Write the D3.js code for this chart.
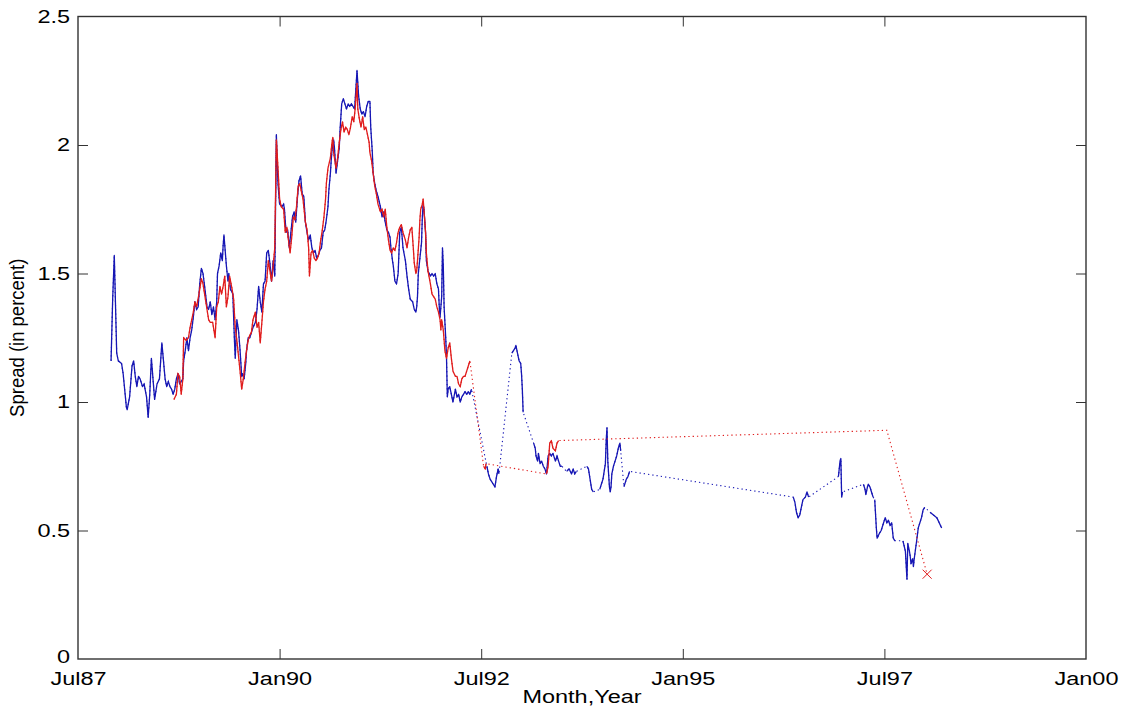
<!DOCTYPE html>
<html><head><meta charset="utf-8">
<script src="https://cdn.jsdelivr.net/npm/d3@7"></script>
<style>
body{margin:0;background:#fff;}
svg{display:block;background:#fff;}
text{font-family:"Liberation Sans",Arial,Helvetica,sans-serif;fill:#000;}
</style></head><body>
<svg id="chart" width="1122" height="711"></svg>
<script>
// ---- tick labels ----
const xTickValues = [1987.5, 1990, 1992.5, 1995, 1997.5, 2000];
const xTickLabels = ["Jul87", "Jan90", "Jul92", "Jan95", "Jul97", "Jan00"];
const yTickValues = [0, 0.5, 1, 1.5, 2, 2.5];
const yTickLabels = ["0", "0.5", "1", "1.5", "2", "2.5"];
const xLabel = "Month,Year";
const yLabel = "Spread (in percent)";

// ---- blue series: [decimal year, spread]; null = gap (bridged by dotted line) ----
const blueSeries = [
[1987.91,1.16],[1987.93,1.40],[1987.95,1.57],[1987.98,1.19],[1988.00,1.16],[1988.04,1.15],[1988.06,1.11],[1988.10,0.98],
[1988.11,0.97],[1988.14,1.02],[1988.17,1.14],[1988.19,1.16],[1988.21,1.10],[1988.23,1.06],[1988.25,1.10],[1988.27,1.09],
[1988.30,1.06],[1988.32,1.07],[1988.35,1.02],[1988.37,0.94],[1988.39,1.03],[1988.41,1.17],[1988.43,1.09],[1988.45,1.01],
[1988.48,1.07],[1988.51,1.09],[1988.54,1.23],[1988.56,1.16],[1988.58,1.09],[1988.60,1.06],[1988.62,1.08],[1988.64,1.06],
[1988.66,1.05],[1988.68,1.03],[1988.70,1.05],[1988.72,1.09],[1988.74,1.11],[1988.76,1.07],[1988.80,1.09],[1988.81,1.16],
[1988.83,1.20],[1988.85,1.25],[1988.87,1.20],[1988.89,1.25],[1988.91,1.28],[1988.93,1.33],[1988.95,1.39],[1988.97,1.36],
[1988.99,1.37],[1989.01,1.46],[1989.03,1.52],[1989.05,1.50],[1989.07,1.45],[1989.10,1.37],[1989.12,1.36],[1989.14,1.39],
[1989.16,1.34],[1989.18,1.37],[1989.20,1.32],[1989.22,1.39],[1989.23,1.50],[1989.25,1.53],[1989.27,1.58],[1989.29,1.55],
[1989.30,1.61],[1989.31,1.65],[1989.34,1.53],[1989.36,1.47],[1989.37,1.50],[1989.39,1.44],[1989.42,1.42],[1989.44,1.24],
[1989.45,1.17],[1989.47,1.32],[1989.49,1.28],[1989.51,1.20],[1989.53,1.10],[1989.54,1.11],[1989.56,1.09],[1989.58,1.15],
[1989.59,1.20],[1989.61,1.25],[1989.63,1.25],[1989.65,1.27],[1989.67,1.29],[1989.70,1.31],[1989.72,1.36],[1989.74,1.45],
[1989.76,1.39],[1989.78,1.35],[1989.80,1.46],[1989.82,1.47],[1989.84,1.58],[1989.86,1.59],[1989.88,1.54],[1989.90,1.47],
[1989.92,1.55],[1989.94,1.49],[1989.96,2.04],[1989.97,1.94],[1989.98,1.85],[1990.00,1.77],[1990.03,1.76],[1990.05,1.77],
[1990.06,1.75],[1990.08,1.66],[1990.10,1.67],[1990.12,1.60],[1990.14,1.66],[1990.16,1.72],[1990.18,1.74],[1990.20,1.70],
[1990.22,1.79],[1990.24,1.86],[1990.26,1.88],[1990.28,1.81],[1990.30,1.80],[1990.32,1.70],[1990.34,1.66],[1990.36,1.63],
[1990.38,1.65],[1990.40,1.60],[1990.42,1.58],[1990.44,1.59],[1990.46,1.56],[1990.48,1.57],[1990.50,1.59],[1990.52,1.60],
[1990.54,1.66],[1990.56,1.67],[1990.58,1.71],[1990.60,1.76],[1990.61,1.82],[1990.63,1.89],[1990.64,1.94],[1990.65,1.98],
[1990.67,2.02],[1990.68,1.99],[1990.70,1.89],[1990.72,1.94],[1990.74,1.99],[1990.75,2.06],[1990.77,2.16],[1990.79,2.18],
[1990.81,2.16],[1990.83,2.14],[1990.85,2.16],[1990.87,2.15],[1990.89,2.16],[1990.91,2.15],[1990.93,2.14],[1990.94,2.19],
[1990.96,2.29],[1990.98,2.19],[1991.00,2.14],[1991.02,2.12],[1991.04,2.13],[1991.06,2.11],[1991.08,2.15],[1991.10,2.17],
[1991.12,2.17],[1991.13,2.07],[1991.15,1.97],[1991.16,1.89],[1991.18,1.85],[1991.20,1.82],[1991.22,1.80],[1991.25,1.76],
[1991.27,1.72],[1991.29,1.74],[1991.31,1.70],[1991.33,1.67],[1991.35,1.66],[1991.37,1.64],[1991.38,1.60],[1991.40,1.55],
[1991.41,1.53],[1991.43,1.47],[1991.45,1.46],[1991.47,1.50],[1991.49,1.66],[1991.51,1.68],[1991.53,1.60],[1991.56,1.55],
[1991.58,1.49],[1991.60,1.44],[1991.62,1.40],[1991.65,1.39],[1991.67,1.36],[1991.69,1.35],[1991.70,1.37],[1991.71,1.41],
[1991.72,1.50],[1991.74,1.56],[1991.76,1.62],[1991.77,1.72],[1991.78,1.77],[1991.79,1.75],[1991.81,1.66],[1991.82,1.55],
[1991.84,1.51],[1991.87,1.49],[1991.89,1.50],[1991.91,1.49],[1991.93,1.50],[1991.95,1.46],[1991.97,1.44],[1991.98,1.37],
[1991.99,1.33],[1992.01,1.41],[1992.02,1.60],[1992.03,1.53],[1992.04,1.37],[1992.06,1.25],[1992.07,1.17],[1992.08,1.02],
[1992.09,1.05],[1992.11,1.06],[1992.13,1.03],[1992.15,1.00],[1992.18,1.05],[1992.20,1.02],[1992.22,1.03],[1992.24,1.00],
[1992.26,1.02],[1992.28,1.03],[1992.30,1.04],[1992.32,1.03],[1992.34,1.04],[1992.36,1.03],[1992.38,1.05],
[1992.47,null],
[1992.57,0.75],[1992.59,0.72],[1992.61,0.70],[1992.63,0.69],[1992.65,0.68],[1992.67,0.67],[1992.69,0.71],[1992.71,0.74],[1992.72,0.72],
[1992.80,null],
[1992.88,1.19],[1992.90,1.20],[1992.92,1.21],[1992.93,1.22],[1992.95,1.19],[1992.97,1.16],[1992.99,1.15],[1993.00,1.11],[1993.01,1.05],[1993.02,0.96],
[1993.08,null],
[1993.15,0.84],[1993.17,0.82],[1993.18,0.79],[1993.20,0.77],[1993.21,0.80],[1993.23,0.76],[1993.25,0.77],[1993.27,0.75],[1993.29,0.74],
[1993.31,0.72],[1993.33,0.79],[1993.35,0.80],[1993.37,0.79],[1993.39,0.80],[1993.42,0.77],[1993.44,0.79],[1993.46,0.77],[1993.48,0.75],[1993.50,0.75],
[1993.53,null],
[1993.56,0.73],[1993.59,0.74],[1993.62,0.72],[1993.64,0.74],[1993.66,0.72],[1993.68,0.73],
[1993.75,null],
[1993.81,0.75],[1993.83,0.74],[1993.85,0.70],[1993.87,0.66],[1993.89,0.65],
[1993.93,null],
[1993.97,0.66],[1993.99,0.68],[1994.01,0.70],[1994.04,0.76],[1994.05,0.85],[1994.06,0.90],[1994.07,0.77],[1994.09,0.67],[1994.10,0.65],
[1994.11,0.67],[1994.12,0.72],[1994.14,0.75],[1994.16,0.77],[1994.18,0.79],[1994.20,0.82],[1994.22,0.84],[1994.23,0.81],
[1994.25,null],
[1994.27,0.67],[1994.30,0.70],[1994.32,0.71],[1994.34,0.73],
[1995.30,null],
[1996.37,0.63],[1996.39,0.61],[1996.41,0.57],[1996.43,0.55],[1996.45,0.56],[1996.47,0.59],[1996.49,0.62],[1996.52,0.63],[1996.54,0.65],[1996.56,0.63],
[1996.75,null],
[1996.93,0.71],[1996.95,0.77],[1996.96,0.78],[1996.97,0.63],[1996.98,0.65],
[1997.10,null],
[1997.24,0.68],[1997.26,0.66],[1997.27,0.64],[1997.29,0.67],[1997.30,0.68],[1997.32,0.67],[1997.34,0.65],[1997.36,0.63],
[1997.37,null],
[1997.38,0.62],[1997.40,0.51],[1997.41,0.47],[1997.44,0.49],[1997.46,0.50],[1997.49,0.53],[1997.51,0.55],[1997.53,0.53],[1997.55,0.54],
[1997.57,0.52],[1997.59,0.53],[1997.61,0.47],[1997.63,0.46],
[1997.68,null],
[1997.73,0.46],[1997.76,0.42],[1997.78,0.31],[1997.79,0.45],[1997.81,0.42],[1997.82,0.40],[1997.83,0.37],[1997.85,0.39],[1997.86,0.36],
[1997.87,0.39],[1997.90,0.46],[1997.92,0.51],[1997.94,0.53],[1997.96,0.55],[1997.98,0.58],[1998.00,0.59],
[1998.03,null],
[1998.07,0.57],[1998.15,0.55],[1998.21,0.51]
];

// ---- red series ----
const redSeries = [
[1988.69,1.01],[1988.72,1.03],[1988.74,1.11],[1988.76,1.10],[1988.78,1.03],[1988.80,1.09],[1988.81,1.25],[1988.84,1.24],
[1988.87,1.25],[1988.89,1.29],[1988.91,1.32],[1988.93,1.35],[1988.95,1.39],[1988.97,1.37],[1989.00,1.42],[1989.03,1.48],
[1989.05,1.46],[1989.07,1.42],[1989.10,1.36],[1989.12,1.32],[1989.14,1.31],[1989.17,1.31],[1989.20,1.25],[1989.22,1.37],
[1989.24,1.39],[1989.26,1.45],[1989.28,1.42],[1989.30,1.45],[1989.32,1.49],[1989.34,1.37],[1989.36,1.41],[1989.38,1.49],
[1989.41,1.44],[1989.43,1.40],[1989.45,1.29],[1989.47,1.24],[1989.49,1.18],[1989.51,1.12],[1989.53,1.05],[1989.55,1.09],
[1989.57,1.15],[1989.59,1.20],[1989.61,1.24],[1989.63,1.26],[1989.65,1.27],[1989.67,1.32],[1989.70,1.35],[1989.72,1.29],
[1989.74,1.31],[1989.76,1.23],[1989.78,1.31],[1989.80,1.39],[1989.82,1.44],[1989.84,1.47],[1989.86,1.55],[1989.88,1.51],
[1989.90,1.47],[1989.92,1.53],[1989.94,1.60],[1989.96,2.02],[1989.98,1.91],[1990.00,1.79],[1990.02,1.76],[1990.05,1.75],
[1990.07,1.66],[1990.09,1.68],[1990.11,1.63],[1990.13,1.58],[1990.15,1.64],[1990.17,1.72],[1990.19,1.71],[1990.21,1.76],
[1990.23,1.84],[1990.25,1.85],[1990.27,1.82],[1990.29,1.79],[1990.32,1.70],[1990.34,1.67],[1990.36,1.60],[1990.37,1.49],
[1990.39,1.58],[1990.41,1.59],[1990.43,1.56],[1990.45,1.55],[1990.47,1.56],[1990.49,1.58],[1990.51,1.63],[1990.53,1.67],
[1990.55,1.72],[1990.57,1.79],[1990.58,1.85],[1990.60,1.91],[1990.63,1.95],[1990.65,2.01],[1990.66,2.03],[1990.67,1.97],
[1990.70,1.91],[1990.72,1.95],[1990.74,2.01],[1990.76,2.06],[1990.78,2.09],[1990.80,2.05],[1990.82,2.07],[1990.84,2.06],
[1990.86,2.04],[1990.88,2.07],[1990.90,2.11],[1990.92,2.09],[1990.94,2.15],[1990.96,2.24],[1990.97,2.14],[1990.99,2.10],
[1991.01,2.07],[1991.03,2.11],[1991.05,2.06],[1991.07,2.07],[1991.09,2.04],[1991.11,2.01],[1991.12,1.97],[1991.14,1.94],
[1991.16,1.89],[1991.18,1.84],[1991.20,1.81],[1991.22,1.77],[1991.25,1.74],[1991.27,1.75],[1991.29,1.72],[1991.31,1.75],
[1991.33,1.68],[1991.35,1.63],[1991.37,1.59],[1991.39,1.58],[1991.41,1.60],[1991.43,1.59],[1991.45,1.62],[1991.47,1.66],
[1991.49,1.68],[1991.51,1.69],[1991.53,1.66],[1991.56,1.63],[1991.58,1.60],[1991.60,1.64],[1991.62,1.67],[1991.64,1.68],
[1991.66,1.59],[1991.67,1.54],[1991.69,1.50],[1991.70,1.51],[1991.71,1.55],[1991.73,1.64],[1991.74,1.71],[1991.75,1.75],
[1991.77,1.77],[1991.78,1.79],[1991.79,1.75],[1991.81,1.66],[1991.82,1.58],[1991.84,1.51],[1991.87,1.46],[1991.89,1.42],
[1991.91,1.41],[1991.93,1.40],[1991.95,1.37],[1991.97,1.35],[1991.99,1.32],[1992.00,1.28],[1992.01,1.32],[1992.03,1.28],
[1992.05,1.20],[1992.07,1.17],[1992.09,1.21],[1992.11,1.23],[1992.13,1.17],[1992.15,1.12],[1992.18,1.10],[1992.20,1.10],
[1992.22,1.07],[1992.24,1.06],[1992.26,1.09],[1992.28,1.10],[1992.30,1.10],[1992.32,1.12],[1992.34,1.14],[1992.36,1.16],
[1992.45,null],
[1992.53,0.75],[1992.55,0.74],[1992.56,0.76],
[1992.90,null],
[1993.31,0.72],[1993.33,0.75],[1993.35,0.84],[1993.37,0.85],[1993.39,0.82],[1993.42,0.81],[1993.44,0.84],[1993.46,0.85],
[1995.00,null],
[1996.53,0.88],
[1997.00,null],
[1997.53,0.89],
[1997.80,null],
[1998.03,0.33]
];

// ---- marker (x) on the red series ----
const redMarkerT = [1998.03];
const redMarkerV = [0.33];

// ---- drawing ----
const svg = d3.select("#chart");
const pL = 78, pR = 1086, pT = 16.5, pB = 659;
const stretch = 1.27;
const fontSize = 18.5;
const frameColor = "#333";

const x = d3.scaleLinear().domain([1987.5, 2000]).range([pL, pR]);
const y = d3.scaleLinear().domain([0, 2.5]).range([pB, pT]);

const blueColor = "#1616b4";
const redColor = "#e01c1c";

function drawSeries(data, color) {
  const defined = data.filter(d => d[1] !== null);
  svg.append("path")
    .datum(defined)
    .attr("fill", "none")
    .attr("stroke", color)
    .attr("stroke-width", 1.1)
    .attr("stroke-dasharray", "1.3,3")
    .attr("d", d3.line().x(d => x(d[0])).y(d => y(d[1])));
  svg.append("path")
    .datum(data)
    .attr("fill", "none")
    .attr("stroke", color)
    .attr("stroke-width", 1.3)
    .attr("stroke-linejoin", "round")
    .attr("d", d3.line().defined(d => d[1] !== null).x(d => x(d[0])).y(d => y(d[1])));
}
drawSeries(blueSeries, blueColor);
drawSeries(redSeries, redColor);

const mk = redMarkerT.map((t, i) => [t, redMarkerV[i]]);
svg.selectAll("path.mark").data(mk).join("path")
  .attr("class", "mark")
  .attr("fill", "none")
  .attr("stroke", redColor)
  .attr("stroke-width", 1)
  .attr("d", d => {
    const cx = x(d[0]), cy = y(d[1]), r = 4.5;
    return `M${cx - r},${cy - r}L${cx + r},${cy + r}M${cx - r},${cy + r}L${cx + r},${cy - r}`;
  });

const gB = svg.append("g").attr("transform", `translate(0,${pB})`)
  .call(d3.axisBottom(x).tickValues(xTickValues).tickFormat((d, i) => xTickLabels[i])
    .tickSizeInner(-10).tickSizeOuter(0).tickPadding(12.5));
const gT = svg.append("g").attr("transform", `translate(0,${pT})`)
  .call(d3.axisTop(x).tickValues(xTickValues).tickFormat(() => "")
    .tickSizeInner(-10).tickSizeOuter(0));
const gL = svg.append("g").attr("transform", `translate(${pL},0)`)
  .call(d3.axisLeft(y).tickValues(yTickValues).tickFormat((d, i) => yTickLabels[i])
    .tickSizeInner(-10).tickSizeOuter(0).tickPadding(8));
const gR = svg.append("g").attr("transform", `translate(${pR},0)`)
  .call(d3.axisRight(y).tickValues(yTickValues).tickFormat(() => "")
    .tickSizeInner(-10).tickSizeOuter(0));

[gB, gT, gL, gR].forEach(g => {
  g.select(".domain").remove();
  g.selectAll(".tick line").attr("stroke", frameColor).attr("stroke-width", 1);
  g.selectAll("text").attr("font-size", fontSize).attr("fill", "#000")
    .attr("font-family", '"Liberation Sans", Arial, sans-serif');
});
gB.selectAll(".tick text").attr("transform", `scale(${stretch},1)`);
gL.selectAll(".tick text").attr("x", -8 / stretch).attr("transform", `scale(${stretch},1)`);
// the "0" label sits a touch higher, as in the reference
gL.selectAll(".tick text").filter((d, i) => i === 0).attr("dy", "0.2em");
gT.selectAll(".tick").filter((d, i) => i === 0 || i === xTickValues.length - 1).remove();
gR.selectAll(".tick").filter((d, i) => i === 0 || i === yTickValues.length - 1).remove();
gB.selectAll(".tick line").filter((d, i) => i === 0 || i === xTickValues.length - 1).remove();
gL.selectAll(".tick line").filter((d, i) => i === 0 || i === yTickValues.length - 1).remove();

svg.append("rect")
  .attr("x", pL).attr("y", pT)
  .attr("width", pR - pL).attr("height", pB - pT)
  .attr("fill", "none").attr("stroke", frameColor).attr("stroke-width", 1.4);

svg.append("text")
  .attr("transform", `translate(${(pL + pR) / 2},703) scale(${stretch},1)`)
  .attr("text-anchor", "middle").attr("font-size", fontSize)
  .text(xLabel);
svg.append("text")
  .attr("transform", `translate(24,${(pT + pB) / 2}) rotate(-90) scale(1,1.1)`)
  .attr("text-anchor", "middle").attr("font-size", fontSize)
  .text(yLabel);
</script>
</body></html>
